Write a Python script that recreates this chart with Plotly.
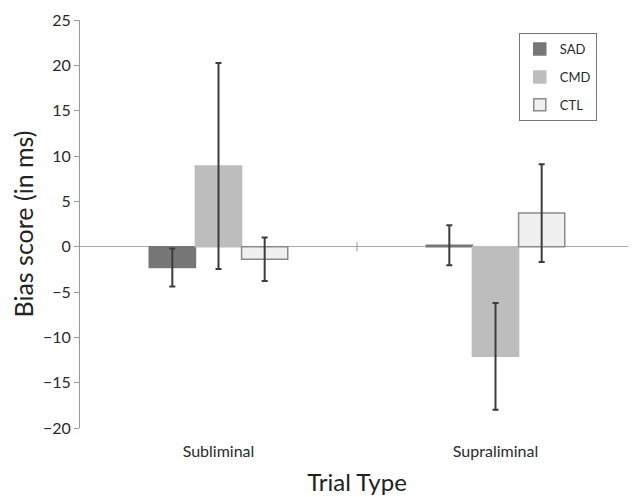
import plotly.graph_objects as go

categories = ["Subliminal", "Supraliminal"]
groups = ["SAD", "CMD", "CTL"]
sad_vals = [-2.3, 0.15]
cmd_vals = [8.9, -12.1]
ctl_vals = [-1.4, 3.7]
sad_err = [2.1, 2.2]
cmd_err = [11.35, 5.9]
ctl_err = [2.4, 5.4]
y_ticks = [-20, -15, -10, -5, 0, 5, 10, 15, 20, 25]

fills = {"SAD": "#777777", "CMD": "#bdbdbd", "CTL": "#f0f0f0"}
lines = {"SAD": "#777777", "CMD": "#bdbdbd", "CTL": "#8a8a8a"}
vals = {"SAD": sad_vals, "CMD": cmd_vals, "CTL": ctl_vals}
errs = {"SAD": sad_err, "CMD": cmd_err, "CTL": ctl_err}

FONT = "Lato, Open Sans, Liberation Sans, sans-serif"

fig = go.Figure()
for g in groups:
    fig.add_trace(go.Bar(
        x=categories, y=vals[g], name=g, legendgroup=g,
        marker=dict(color=fills[g], line=dict(color=lines[g], width=1.5)),
        error_y=dict(type="data", array=errs[g], visible=True,
                     color="#3c3c3c", thickness=2, width=3),
    ))

# category-boundary tick on the zero line
fig.add_shape(type="line", xref="x", yref="y", x0=0.5, x1=0.5, y0=-0.5, y1=0.5,
              line=dict(color="#999999", width=1))

fig.update_layout(
    width=628, height=489,
    margin=dict(l=72, r=2, t=12, b=69),
    paper_bgcolor="white", plot_bgcolor="white",
    barmode="group", bargap=0.5, bargroupgap=0,
    font=dict(family=FONT, color="#333333"),
    showlegend=True,
    legend=dict(x=0.792, y=0.968, xanchor="left", yanchor="top",
                bordercolor="#777777", borderwidth=1, bgcolor="white",
                font=dict(size=13, color="#2a2a2a"), tracegroupgap=8,
                itemwidth=30),
    xaxis=dict(showline=False, showgrid=False, zeroline=False,
               ticks="outside", ticklen=9, tickcolor="rgba(0,0,0,0)",
               tickfont=dict(size=16, color="#2a2a2a"),
               title=dict(text="Trial Type", font=dict(size=24, color="#222222"), standoff=14),
               range=[-0.5, 1.5]),
    yaxis=dict(range=[-20, 25], tickvals=y_ticks, showgrid=False,
               showline=True, linecolor="#999999", linewidth=1,
               ticks="outside", ticklen=5, tickcolor="#999999",
               zeroline=True, zerolinecolor="#aaaaaa", zerolinewidth=1,
               tickfont=dict(size=16, color="#2a2a2a"),
               title=dict(text="Bias score (in ms)", font=dict(size=25, color="#222222"), standoff=6)),
)

fig.write_html("out.html")
